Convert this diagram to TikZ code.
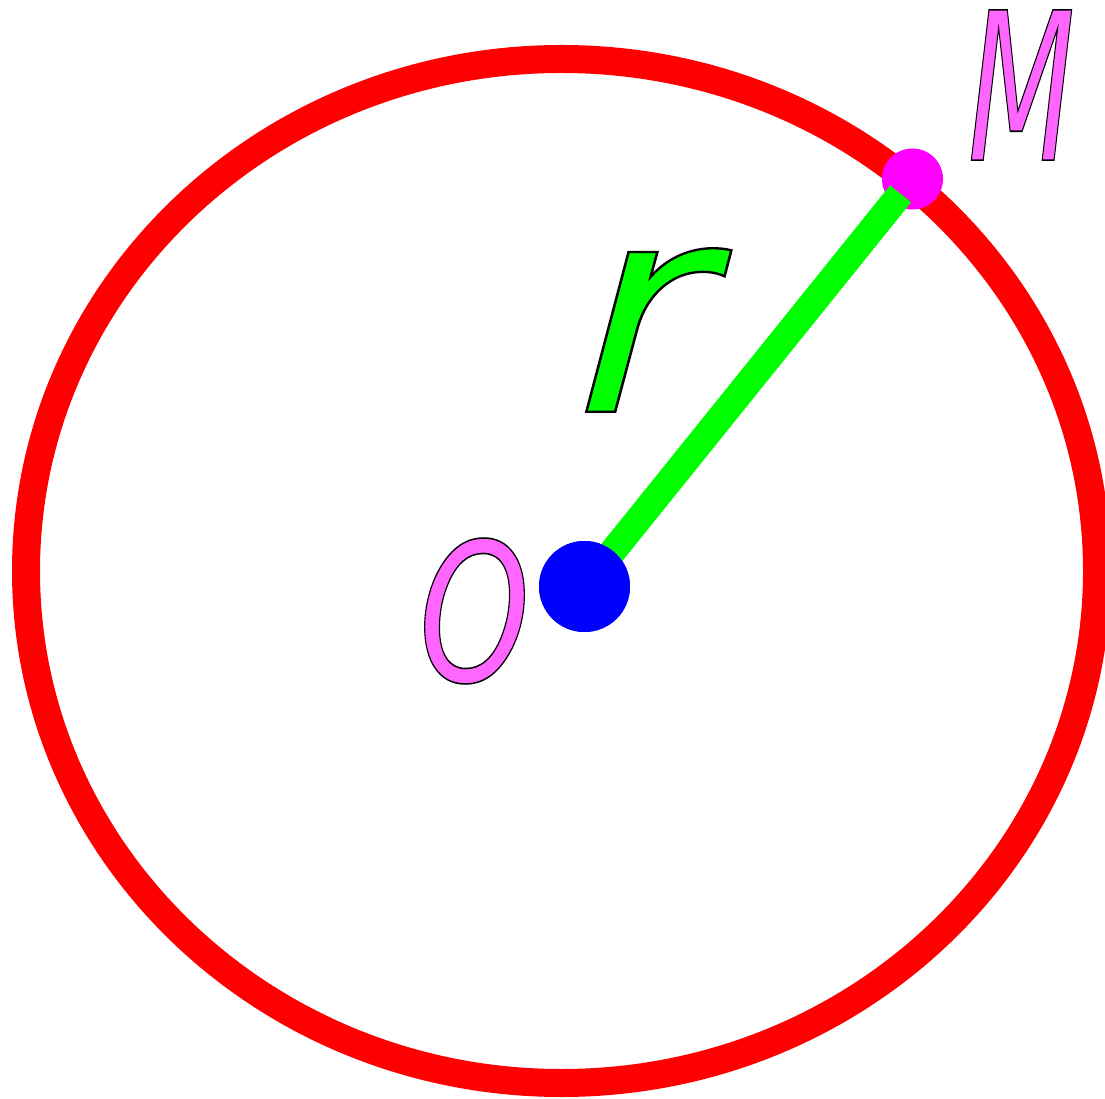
\documentclass[tikz,border=0pt]{standalone}
\usepackage{fontspec}
\setmainfont{DejaVu Sans}
\newfontfamily\lblfont{DejaVu Sans Oblique}
\definecolor{lblpink}{RGB}{255,102,255}
\definecolor{ptmag}{RGB}{255,0,255}
\definecolor{radgreen}{RGB}{0,255,0}
\newcommand\outlinetext[1]{\special{pdf:literal direct 2 Tr 0 G 0.8 w}#1\special{pdf:literal direct 0 Tr}}
\begin{document}
\begin{tikzpicture}[x=1pt,y=1pt,
  lbl/.style={inner sep=0pt,outer sep=0pt,font=\lblfont\fontsize{100}{100}\selectfont},
  dotpt/.style={circle,inner sep=0pt,outer sep=0pt}]
\useasboundingbox (0,0) rectangle (1105,1098);
\draw[red,line width=28] (561.5,527) ellipse [x radius=535.5, y radius=512];
\node[dotpt,fill=ptmag,minimum size=61] (M) at (912.5,919) {};
\node[dotpt,fill=blue,minimum size=91] (O) at (584.5,511.5) {};
\draw[radgreen,line width=27,shorten >=19] (O.center) -- (M.center);
\node[dotpt,fill=blue,minimum size=91] at (O.center) {};
\node[lbl,text=lblpink] (lM) at (1021.5,1013) {\scalebox{1.24}[2.06]{\outlinetext{M}}};
\node[lbl,text=radgreen,xslant=0.05,transform shape] (lr) at (645,768) {\scalebox{3.2}[2.92]{\outlinetext{r}}};
\node[lbl,text=lblpink] (lO) at (474.5,487) {\scalebox{1.41}[1.93]{\outlinetext{O}}};
\end{tikzpicture}
\end{document}
